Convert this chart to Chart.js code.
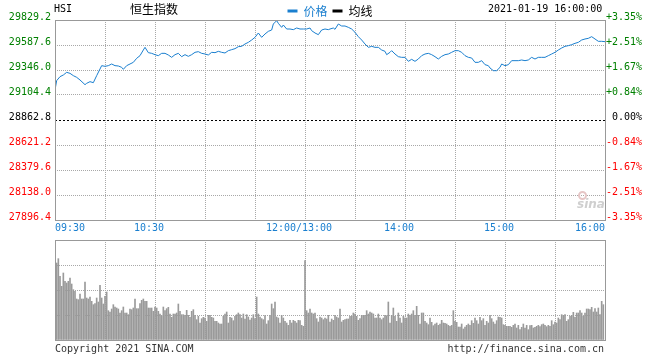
<!DOCTYPE html>
<html><head><meta charset="utf-8">
<script src="https://cdn.jsdelivr.net/npm/chart.js@4.4.1/dist/chart.umd.min.js"></script>
<style>
html,body{margin:0;padding:0;background:#fff;}
#wrap{position:relative;width:660px;height:360px;overflow:hidden;background:#fff;}
canvas{position:absolute;left:0;}
#c1{top:0;} #c2{top:232px;}
.t{position:absolute;font-family:"DejaVu Sans Mono",monospace;font-size:10px;line-height:12px;white-space:nowrap;color:#000;}
#eye{position:absolute;left:578px;top:191px;width:5px;height:5px;border:2px solid #e6c6c6;border-radius:50%;}
</style></head><body>
<div id="wrap">
<canvas id="c1" width="660" height="240"></canvas>
<canvas id="c2" width="660" height="128"></canvas>
<div class="t" id="sym" style="left:54px;top:3px"></div>
<div class="t" id="nm" style="left:130px;top:2px;font-family:'Noto Sans CJK SC';font-size:12px;line-height:14px"></div>
<div class="t" id="dt" style="left:488px;top:3px"></div>
<div class="t" id="cp" style="left:55px;top:343px;color:#333"></div>
<div class="t" id="url" style="right:56px;top:343px;color:#333"></div>
<div id="eye"></div>
<div class="t" id="wm" style="left:577px;top:197px;font-family:'DejaVu Sans';font-style:italic;font-weight:bold;font-size:12px;line-height:14px;color:#cfcfcf"></div>
</div>
<script>
// ---- data ----
const symbol = 'HSI';
const indexName = '恒生指数';
const dateTime = '2021-01-19 16:00:00';
const copyright = 'Copyright 2021 SINA.COM';
const siteUrl = 'http://finance.sina.com.cn';
const watermark = 'sina';
const legendNames = ['价格', '均线'];
const prevClose = 28862.8;
const priceTicks = [27896.4, 28138.0, 28379.6, 28621.2, 28862.8, 29104.4, 29346.0, 29587.6, 29829.2];
const timeLabels = ['09:30', '10:30', '12:00/13:00', '14:00', '15:00', '16:00'];
const timeLabelMinutes = [0, 60, 150, 210, 270, 330];
const gridMinutes = [0, 30, 60, 90, 120, 150, 180, 210, 240, 270, 300, 330];
const volTicks = [0, 75, 150, 225, 300];
const priceMinutes = [0,1,3,5,7,9,11,13,15,18,19,21,23,25,27,28,30,32,34,36,38,40,41,43,45,47,49,51,53,54,56,58,60,62,64,66,68,70,72,74,76,78,80,82,84,86,88,90,92,94,96,98,100,102,104,106,108,110,112,114,116,118,120,122,124,126,128,130,131,133,134,136,137,139,141,143,145,147,149,151,153,154,156,158,160,162,164,165,167,168,170,172,174,176,178,180,182,184,186,188,190,192,194,196,198,199,201,202,204,206,208,210,212,214,216,218,220,222,224,226,228,230,232,234,236,238,240,242,244,246,248,250,252,254,256,258,260,261,263,265,267,268,270,272,274,276,278,280,282,284,286,288,290,292,294,296,298,300,302,304,306,308,310,312,314,316,318,320,322,324,326,328,330];
const prices = [29152.7,29242.9,29281.6,29297.7,29323.5,29313.8,29291.3,29275.2,29249.4,29204.3,29217.2,29233.3,29223.6,29291.3,29355.7,29387.9,29381.5,29387.9,29404.0,29387.9,29384.7,29371.8,29352.5,29387.9,29404.0,29420.1,29458.8,29484.5,29539.3,29565.1,29513.5,29507.1,29494.2,29484.5,29507.1,29507.1,29491.0,29468.4,29494.2,29507.1,29474.9,29494.2,29478.1,29494.2,29516.8,29523.2,29507.1,29500.6,29491.0,29516.8,29513.5,29526.4,29516.8,29510.3,29532.9,29542.5,29552.2,29571.5,29574.7,29597.3,29613.4,29635.9,29661.7,29703.6,29661.7,29693.9,29719.7,29732.6,29790.6,29822.8,29797.0,29758.3,29780.9,29742.2,29742.2,29735.8,29751.9,29742.2,29742.2,29742.2,29751.9,29726.1,29703.6,29687.5,29732.6,29742.2,29735.8,29742.2,29751.9,29739.0,29790.6,29771.2,29771.2,29758.3,29742.2,29710.0,29668.1,29635.9,29597.3,29565.1,29574.7,29565.1,29565.1,29539.3,29526.4,29494.2,29516.8,29532.9,29500.6,29474.9,29468.4,29468.4,29429.8,29449.1,29429.8,29452.3,29484.5,29500.6,29507.1,29494.2,29474.9,29452.3,29478.1,29494.2,29500.6,29516.8,29532.9,29532.9,29516.8,29484.5,29468.4,29462.0,29420.1,29420.1,29436.2,29397.6,29387.9,29365.4,29339.6,29339.6,29371.8,29404.0,29387.9,29397.6,29436.2,29436.2,29436.2,29442.7,29436.2,29442.7,29468.4,29452.3,29468.4,29468.4,29468.4,29484.5,29500.6,29516.8,29539.3,29558.6,29574.7,29581.2,29590.8,29603.7,29613.4,29635.9,29645.6,29652.0,29668.1,29645.6,29623.1,29623.1,29619.8];
// volume per minute (relative units, 300 = top of panel)
const volumes = [
231,244,191,161,201,176,171,176,186,168,
151,146,123,121,138,123,123,174,126,123,
129,116,106,109,126,114,164,126,108,131,
144,88,84,93,106,99,96,93,81,88,
99,81,81,76,93,91,96,123,94,94,
109,119,123,116,116,96,96,96,86,99,
96,86,78,73,99,88,94,98,78,68,
78,78,81,108,86,76,76,74,89,74,
68,86,91,74,61,71,51,64,68,66,
56,74,74,68,66,56,56,51,48,48,
71,78,84,51,68,66,58,71,76,81,
76,66,78,63,76,69,60,66,76,64,
129,78,69,64,61,73,48,58,74,108,
94,114,69,66,51,74,66,56,51,44,
59,51,59,56,51,59,58,44,41,
238,
88,81,93,81,78,81,64,54,69,66,61,66,63,74,
54,63,59,74,69,66,93,54,59,61,
63,63,71,71,81,78,71,59,64,74,
74,74,88,78,84,81,78,66,66,78,
66,61,66,74,73,114,51,74,96,71,
56,81,66,51,71,66,66,78,74,78,
88,74,101,74,48,81,81,56,51,46,
66,53,43,48,51,44,48,59,51,50,
48,44,41,44,88,56,53,39,39,48,
33,39,44,48,44,58,50,66,58,48,
68,58,64,44,56,51,74,64,54,48,
58,69,68,66,46,44,41,41,41,38,
44,48,36,44,31,38,48,36,44,31,
43,44,36,38,41,44,40,46,48,44,
40,44,41,58,46,54,51,66,61,76,
74,76,56,61,71,74,83,68,81,81,
88,81,71,81,93,93,91,98,84,94,
84,96,76,116,106];

// ---- text ----
document.getElementById('sym').textContent = symbol;
document.getElementById('nm').textContent = indexName;
document.getElementById('dt').textContent = dateTime;
document.getElementById('cp').textContent = copyright;
document.getElementById('url').textContent = siteUrl;
document.getElementById('wm').textContent = watermark;

// ---- styles ----
const BLUE = '#1a7fcf';
const GRID = '#a8a8a8';
const FRAME = '#999999';
const MONO = "'DejaVu Sans Mono', monospace";
Chart.defaults.font.family = MONO;
Chart.defaults.font.size = 10;
Chart.defaults.animation = false;

const isZero = v => Math.abs(v - prevClose) < 0.01;
const sideColor = v => isZero(v) ? '#000000' : (v > prevClose ? '#008000' : '#ff0000');

const framePlugin = {
  id: 'frame',
  afterDatasetsDraw(chart) {
    const {ctx, chartArea: a} = chart;
    ctx.save();
    ctx.strokeStyle = FRAME;
    ctx.lineWidth = 1;
    ctx.setLineDash([]);
    ctx.strokeRect(a.left + 0.5, a.top + 0.5, a.right - a.left, a.bottom - a.top);
    ctx.restore();
  }
};

// ---- price chart ----
new Chart(document.getElementById('c1'), {
  type: 'line',
  data: {
    datasets: [{
      label: legendNames[0],
      data: priceMinutes.map((m, i) => ({x: m, y: prices[i]})),
      borderColor: BLUE,
      backgroundColor: BLUE,
      borderWidth: 1,
      pointRadius: 0,
      tension: 0,
      yAxisID: 'y'
    }]
  },
  options: {
    responsive: false,
    devicePixelRatio: 1,
    animation: false,
    layout: {padding: {left: 0, right: 18, top: 0, bottom: 0}},
    plugins: {
      tooltip: {enabled: false},
      legend: {
        display: true,
        position: 'top',
        fullSize: false,
        maxHeight: 20,
        labels: {
          font: {family: "'Noto Sans CJK SC'", size: 12},
          boxWidth: 10,
          boxHeight: 3,
          padding: 5,
          generateLabels: () => [
            {text: legendNames[0], fillStyle: BLUE, strokeStyle: BLUE, lineWidth: 0, fontColor: BLUE, hidden: false, datasetIndex: 0},
            {text: legendNames[1], fillStyle: '#000', strokeStyle: '#000', lineWidth: 0, fontColor: '#000', hidden: false}
          ]
        }
      }
    },
    scales: {
      x: {
        type: 'linear', position: 'bottom', min: 0, max: 330,
        afterBuildTicks: s => { s.ticks = gridMinutes.map(v => ({value: v})); },
        afterFit: s => { s.height = 0; },
        ticks: {display: false},
        grid: {display: true, drawTicks: false, color: GRID, lineWidth: 1},
        border: {display: false, dash: [1, 1]}
      },
      xl: {
        type: 'linear', position: 'bottom', min: 0, max: 330,
        afterBuildTicks: s => { s.ticks = timeLabelMinutes.map(m => ({value: (m === 0 || m === 330) ? m : m - 3.6})); },
        afterFit: s => { s.height = 20; },
        grid: {display: false, drawTicks: false},
        border: {display: false},
        ticks: {autoSkip: false, maxRotation: 0, minRotation: 0, align: 'inner', padding: 2, color: BLUE,
          callback: (v, i) => timeLabels[i]}
      },
      y: {
        type: 'linear', position: 'left', min: priceTicks[0], max: priceTicks[priceTicks.length - 1],
        afterBuildTicks: s => { s.ticks = priceTicks.map(v => ({value: v})); },
        afterFit: s => { s.width = 55; },
        grid: {drawTicks: false, color: c => (c.tick && isZero(c.tick.value)) ? '#000000' : GRID, lineWidth: 1},
        border: {display: false, dash: c => (c.tick && isZero(c.tick.value)) ? [2, 2] : [1, 1]},
        ticks: {padding: 4, crossAlign: 'near', labelOffset: -3,
          color: c => sideColor(c.tick.value),
          callback: v => v.toFixed(1)}
      },
      y2: {
        type: 'linear', position: 'right', min: priceTicks[0], max: priceTicks[priceTicks.length - 1],
        afterBuildTicks: s => { s.ticks = priceTicks.map(v => ({value: v})); },
        afterFit: s => { s.width = 37; },
        grid: {drawOnChartArea: false, drawTicks: false},
        border: {display: false},
        ticks: {padding: 2, crossAlign: 'far', labelOffset: -3,
          color: c => sideColor(c.tick.value),
          callback: v => {
            const p = (v - prevClose) / prevClose * 100;
            if (isZero(v)) return '0.00%';
            return (p > 0 ? '+' : '-') + Math.abs(p).toFixed(2) + '%';
          }}
      }
    }
  },
  plugins: [framePlugin]
});

// ---- volume chart ----
new Chart(document.getElementById('c2'), {
  type: 'bar',
  data: {
    datasets: [{
      data: volumes.map((v, i) => ({x: i + 1, y: v})),
      backgroundColor: '#9a9a9a',
      borderWidth: 0,
      barThickness: 1
    }]
  },
  options: {
    responsive: false,
    devicePixelRatio: 1,
    animation: false,
    layout: {padding: {left: 0, right: 55, top: 8, bottom: 20}},
    plugins: {legend: {display: false}, tooltip: {enabled: false}},
    scales: {
      x: {
        type: 'linear', min: 0, max: 330, offset: false,
        afterBuildTicks: s => { s.ticks = gridMinutes.map(v => ({value: v})); },
        afterFit: s => { s.height = 0; },
        ticks: {display: false},
        grid: {display: true, drawTicks: false, color: GRID, offset: false},
        border: {display: false, dash: [1, 1]}
      },
      y: {
        type: 'linear', min: volTicks[0], max: volTicks[volTicks.length - 1],
        afterBuildTicks: s => { s.ticks = volTicks.map(v => ({value: v})); },
        afterFit: s => { s.width = 55; },
        ticks: {display: false},
        grid: {drawTicks: false, color: GRID},
        border: {display: false, dash: [1, 1]}
      }
    }
  },
  plugins: [framePlugin]
});
</script>
</body></html>
